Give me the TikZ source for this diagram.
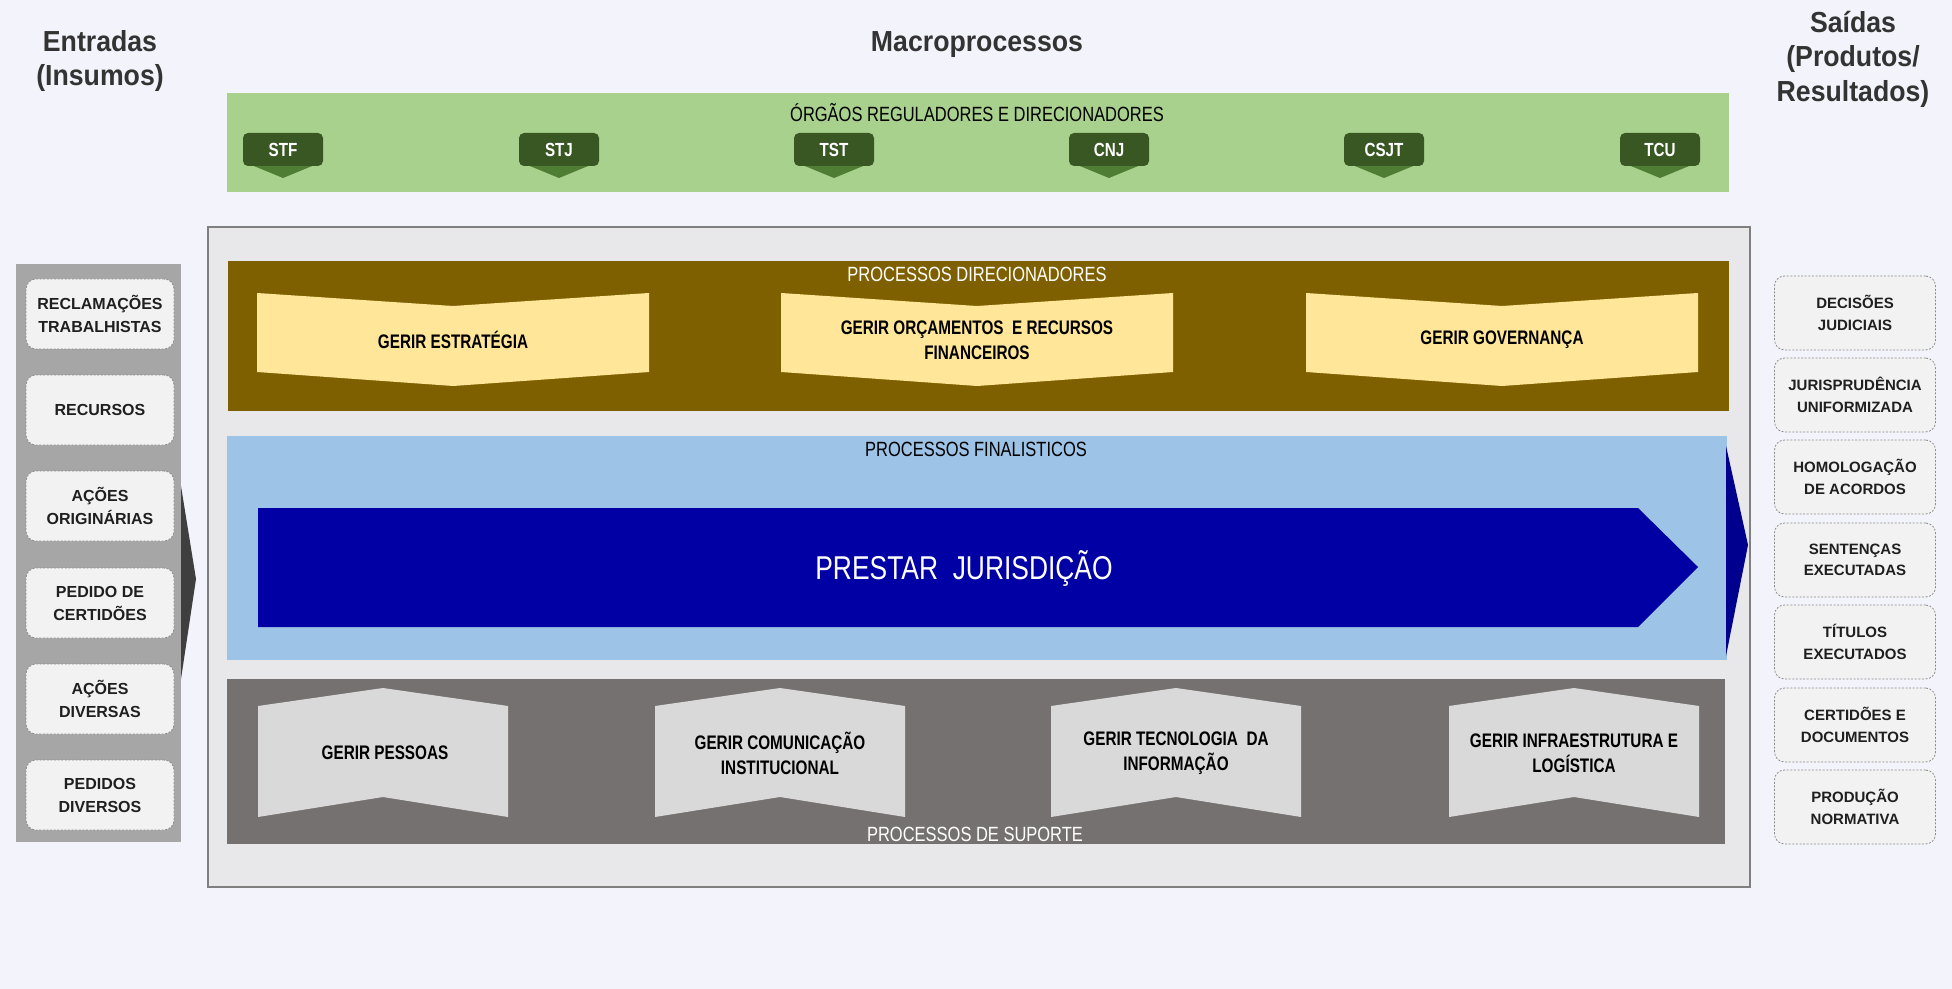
\documentclass[tikz,border=0pt]{standalone}
\usepackage{fontspec}
\setmainfont{Liberation Sans}
\newfontfamily\narrowfont[FakeStretch=0.8]{Liberation Sans}
\newfontfamily\gerirfont[FakeStretch=0.78]{Liberation Sans}
\newfontfamily\headfont[FakeStretch=0.92]{Liberation Sans}
\definecolor{bgc}{HTML}{F3F3FB}
\definecolor{greenband}{HTML}{A9D18E}
\definecolor{regdark}{HTML}{385723}
\definecolor{regtri}{HTML}{4F7D33}
\definecolor{contfill}{HTML}{E8E8EA}
\definecolor{contdraw}{HTML}{7F7F7F}
\definecolor{brownband}{HTML}{7F6000}
\definecolor{yellowshape}{HTML}{FFE699}
\definecolor{blueband}{HTML}{9DC3E6}
\definecolor{navyarrow}{HTML}{0000A4}
\definecolor{navytri}{HTML}{00008F}
\definecolor{supband}{HTML}{767171}
\definecolor{supshape}{HTML}{D9D9D9}
\definecolor{leftpanel}{HTML}{A6A6A6}
\definecolor{leftarrow}{HTML}{3F3F3F}
\definecolor{boxfill}{HTML}{F2F2F2}
\definecolor{boxdraw}{HTML}{8C8C8C}
\definecolor{headtext}{HTML}{333333}
\definecolor{boxtext}{HTML}{1F1F1F}
\tikzset{
  headtxt/.style={align=center, text=headtext, inner sep=0pt,
    font=\headfont\bfseries\fontsize{14.5}{17.2}\selectfont},
  regbox/.style={fill=regdark, rounded corners=2.5pt, minimum width=40pt,
    minimum height=16.5pt, inner sep=0pt, text=white,
    font=\narrowfont\bfseries\fontsize{9.5}{10}\selectfont},
  bandtitle/.style={inner sep=0pt, font=\narrowfont\fontsize{10.3}{11}\selectfont},
  gerirtxt/.style={align=center, inner sep=0pt, text=black,
    font=\gerirfont\bfseries\fontsize{9.8}{12.4}\selectfont},
  inbox/.style={draw=boxdraw, fill=boxfill, dash pattern=on 1pt off 0.8pt,
    line width=0.4pt, rounded corners=5pt, minimum width=74pt, minimum height=35pt,
    align=center, inner sep=0pt, text=boxtext,
    font=\bfseries\fontsize{8}{11.5}\selectfont},
  outbox/.style={draw=boxdraw, fill=boxfill, dash pattern=on 1pt off 0.8pt,
    line width=0.4pt, rounded corners=5pt, minimum width=80.5pt, minimum height=37pt,
    align=center, inner sep=0pt, text=boxtext,
    font=\bfseries\fontsize{7.5}{10.8}\selectfont},
}
\begin{document}
\begin{tikzpicture}[x=0.5pt,y=-0.5pt]
\path[use as bounding box, fill=bgc] (0,0) rectangle (1952,989);

% headings
\node[headtxt] (entradas) at (100,61) {Entradas\\(Insumos)};
\node[headtxt] (macro) at (977,45) {Macroprocessos};
\node[headtxt] (saidas) at (1853,59) {Saídas\\(Produtos/\\Resultados)};

% regulators band
\fill[greenband] (227,93) rectangle (1729,192);
\node[bandtitle, text=black] (orgaos) at (977,113) {ÓRGÃOS REGULADORES E DIRECIONADORES};
\foreach \cx/\lab/\nm in {283/STF/stf, 559/STJ/stj, 834/TST/tst, 1109/CNJ/cnj, 1384/CSJT/csjt, 1660/TCU/tcu}{
  \fill[regtri] (\cx-34,164) -- (\cx+34,164) -- (\cx,178) -- cycle;
  \node[regbox] (\nm) at (\cx,149.5) {\lab};
}

% main container
\draw[fill=contfill, draw=contdraw, line width=0.6pt] (208,227) rectangle (1750,887);

% processos direcionadores
\fill[brownband] (228,261) rectangle (1729,411);
\node[bandtitle, text=white] (pdir) at (977,274) {PROCESSOS DIRECIONADORES};
\foreach \cx in {453,977,1502}{
  \fill[yellowshape] (\cx-196,293) -- (\cx,306) -- (\cx+196,293) -- (\cx+196,372)
     -- (\cx,386) -- (\cx-196,372) -- cycle;
}
\node[gerirtxt] (estrat) at (453,340) {GERIR ESTRATÉGIA};
\node[gerirtxt] (orcam) at (977,340) {GERIR ORÇAMENTOS\ \ E RECURSOS\\FINANCEIROS};
\node[gerirtxt] (gov) at (1502,340) {GERIR GOVERNANÇA};

% processos finalisticos
\fill[blueband] (227,436) rectangle (1727,660);
\fill[navytri] (1726,446) -- (1748,545) -- (1726,656) -- cycle;
\node[bandtitle, text=black] (pfin) at (976,449) {PROCESSOS FINALISTICOS};
\fill[navyarrow] (258,508) -- (1638,508) -- (1698,567) -- (1638,627) -- (258,627) -- cycle;
\node[inner sep=0pt, text=white, font=\narrowfont\fontsize{16.5}{18}\selectfont] (prestar) at (964,569) {PRESTAR\ \ JURISDIÇÃO};

% processos de suporte
\fill[supband] (227,679) rectangle (1725,844);
\foreach \cx in {383,780,1176,1574}{
  \fill[supshape] (\cx-125,706) -- (\cx,688) -- (\cx+125,706) -- (\cx+125,817)
     -- (\cx,797) -- (\cx-125,817) -- cycle;
}
\node[gerirtxt] (pessoas) at (385,753) {GERIR PESSOAS};
\node[gerirtxt] (comun) at (780,753) {GERIR COMUNICAÇÃO\\INSTITUCIONAL};
\node[gerirtxt] (tecno) at (1176,753) {GERIR TECNOLOGIA\ \ DA\\INFORMAÇÃO};
\node[gerirtxt] (infra) at (1574,753) {GERIR INFRAESTRUTURA E\\LOGÍSTICA};
\node[bandtitle, text=white] (psup) at (975,834) {PROCESSOS DE SUPORTE};

% inputs panel
\fill[leftpanel] (16,264) rectangle (181,842);
\fill[leftarrow] (181,486) -- (196,579) -- (181,679) -- cycle;
\node[inbox] (in1) at (100,314) {RECLAMAÇÕES\\TRABALHISTAS};
\node[inbox] (in2) at (100,410) {RECURSOS};
\node[inbox] (in3) at (100,506) {AÇÕES\\ORIGINÁRIAS};
\node[inbox] (in4) at (100,603) {PEDIDO DE\\CERTIDÕES};
\node[inbox] (in5) at (100,699) {AÇÕES\\DIVERSAS};
\node[inbox] (in6) at (100,795) {PEDIDOS\\DIVERSOS};

% outputs
\node[outbox] (out1) at (1855,313) {DECISÕES\\JUDICIAIS};
\node[outbox] (out2) at (1855,395) {JURISPRUDÊNCIA\\UNIFORMIZADA};
\node[outbox] (out3) at (1855,477) {HOMOLOGAÇÃO\\DE ACORDOS};
\node[outbox] (out4) at (1855,560) {SENTENÇAS\\EXECUTADAS};
\node[outbox] (out5) at (1855,642) {TÍTULOS\\EXECUTADOS};
\node[outbox] (out6) at (1855,725) {CERTIDÕES E\\DOCUMENTOS};
\node[outbox] (out7) at (1855,807) {PRODUÇÃO\\NORMATIVA};
\end{tikzpicture}
\end{document}
